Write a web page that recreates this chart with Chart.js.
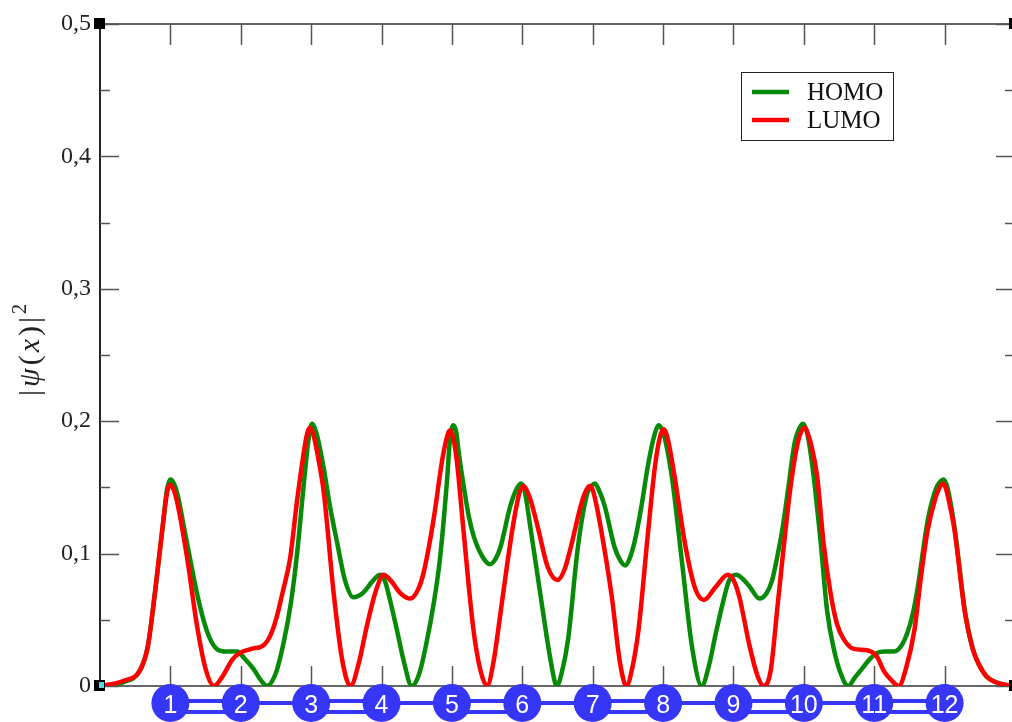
<!DOCTYPE html>
<html>
<head>
<meta charset="utf-8">
<script src="https://cdn.jsdelivr.net/npm/chart.js@4/dist/chart.umd.min.js"></script>
<style>
  html, body { margin: 0; padding: 0; background: #fff; overflow: hidden; }
</style>
</head>
<body>
<canvas id="orbitalChart" width="1017" height="722"></canvas>
<script>
// atom positions along the chain
const atoms = ['1', '2', '3', '4', '5', '6', '7', '8', '9', '10', '11', '12'];
// bond order between consecutive atoms (1-2, 2-3, ...)
const bondOrders = [2, 1, 2, 1, 2, 1, 2, 1, 2, 1, 2];

const yMajor = [0, 0.1, 0.2, 0.3, 0.4, 0.5];
const yMinor = [0.05, 0.15, 0.25, 0.35, 0.45];
const yLabels = ['0', '0,1', '0,2', '0,3', '0,4', '0,5'];

const homoX = [0, 0.34, 0.57, 0.68, 0.78, 0.9, 0.95, 1.0, 1.05, 1.1, 1.2, 1.28, 1.37, 1.47, 1.56, 1.66, 1.8, 1.95,
  2.05, 2.18, 2.29, 2.37, 2.5, 2.61, 2.71, 2.8, 2.9, 2.96, 3.01, 3.05, 3.09, 3.18, 3.27, 3.37, 3.48, 3.6, 3.73,
  3.87, 3.98, 4.05, 4.12, 4.22, 4.31, 4.43, 4.54, 4.64, 4.74, 4.83, 4.93, 4.97, 5.02, 5.06, 5.1, 5.17, 5.24, 5.31,
  5.43, 5.54, 5.62, 5.69, 5.83, 5.92, 5.98, 6.03, 6.12, 6.26, 6.41, 6.49, 6.56, 6.65, 6.79, 6.92, 6.98, 7.03, 7.08,
  7.17, 7.31, 7.39, 7.46, 7.53, 7.6, 7.69, 7.79, 7.88, 7.94, 7.99, 8.03, 8.13, 8.27, 8.41, 8.55, 8.65, 8.75, 8.85,
  8.94, 9.04, 9.13, 9.23, 9.37, 9.47, 9.55, 9.62, 9.7, 9.78, 9.87, 9.94, 9.99, 10.03, 10.07, 10.14, 10.24, 10.33,
  10.43, 10.52, 10.63, 10.72, 10.81, 10.95, 11.04, 11.15, 11.28, 11.38, 11.47, 11.55, 11.62, 11.76,
  11.87, 11.93, 11.98, 12.02, 12.06, 12.14, 12.29, 12.4, 12.48, 12.6, 12.72, 12.85, 13];
const homoY = [0, 0.003, 0.012, 0.03, 0.07, 0.125, 0.148, 0.156, 0.153, 0.145, 0.118, 0.096, 0.072, 0.05, 0.036, 0.028, 0.026, 0.026,
  0.021, 0.013, 0.004, 0, 0.01, 0.033, 0.062, 0.1, 0.155, 0.185, 0.198, 0.195, 0.188, 0.164, 0.135, 0.108, 0.08, 0.067, 0.07,
  0.079, 0.084, 0.079, 0.065, 0.042, 0.02, 0, 0.01, 0.033, 0.062, 0.096, 0.155, 0.185, 0.197, 0.192, 0.175, 0.15, 0.128, 0.113,
  0.098, 0.092, 0.096, 0.105, 0.136, 0.149, 0.153, 0.148, 0.118, 0.068, 0.017, 0, 0.01, 0.035, 0.105, 0.145, 0.151, 0.153, 0.149,
  0.136, 0.105, 0.095, 0.091, 0.097, 0.11, 0.135, 0.168, 0.19, 0.197, 0.193, 0.186, 0.156, 0.093, 0.03, 0, 0.015, 0.04, 0.063,
  0.08, 0.084, 0.081, 0.075, 0.066, 0.07, 0.08, 0.097, 0.12, 0.15, 0.184, 0.195, 0.198, 0.194, 0.185, 0.158, 0.108, 0.057,
  0.027, 0.01, 0, 0.006, 0.012, 0.021, 0.025, 0.026, 0.026, 0.03, 0.04, 0.055, 0.075, 0.125,
  0.148, 0.154, 0.156, 0.153, 0.145, 0.12, 0.056, 0.028, 0.017, 0.007, 0.003, 0.001, 0];

const lumoX = [0, 0.34, 0.57, 0.68, 0.78, 0.9, 0.95, 0.99, 1.04, 1.1, 1.24, 1.38, 1.5, 1.62, 1.75, 1.88, 1.99, 2.15,
  2.33, 2.42, 2.51, 2.6, 2.7, 2.8, 2.9, 2.94, 2.98, 3.03, 3.08, 3.18, 3.32, 3.44, 3.56, 3.68, 3.79, 3.92, 4.03, 4.14,
  4.27, 4.41, 4.52, 4.6, 4.74, 4.86, 4.92, 4.97, 5.02, 5.07, 5.16, 5.3, 5.4, 5.5, 5.59, 5.69, 5.78, 5.88, 5.96, 6.02,
  6.07, 6.12, 6.22, 6.36, 6.5, 6.6, 6.69, 6.84, 6.91, 6.96, 7.0, 7.04, 7.12, 7.27, 7.39, 7.48, 7.56, 7.65, 7.79, 7.89,
  7.96, 8.01, 8.06, 8.1, 8.17, 8.32, 8.46, 8.58, 8.75, 8.92, 9.0, 9.08, 9.23, 9.34, 9.43, 9.53, 9.62, 9.72, 9.81, 9.91,
  9.97, 10.02, 10.06, 10.1, 10.19, 10.28, 10.38, 10.47, 10.57, 10.71, 10.9, 11.04, 11.14, 11.25, 11.35, 11.45, 11.57,
  11.67, 11.76, 11.87, 11.93, 11.98, 12.02, 12.06, 12.14, 12.29, 12.4, 12.48, 12.6, 12.72, 12.85, 13];
const lumoY = [0, 0.004, 0.012, 0.03, 0.07, 0.125, 0.145, 0.152, 0.149, 0.138, 0.096, 0.045, 0.013, 0, 0.008, 0.02, 0.025, 0.028,
  0.031, 0.038, 0.052, 0.072, 0.096, 0.14, 0.178, 0.19, 0.195, 0.19, 0.178, 0.146, 0.07, 0.02, 0, 0.018, 0.045, 0.072, 0.084, 0.079,
  0.07, 0.066, 0.073, 0.086, 0.126, 0.17, 0.186, 0.193, 0.187, 0.17, 0.12, 0.045, 0.013, 0, 0.018, 0.055, 0.09, 0.125, 0.146, 0.151,
  0.147, 0.14, 0.12, 0.09, 0.08, 0.088, 0.105, 0.138, 0.148, 0.151, 0.148, 0.14, 0.118, 0.068, 0.017, 0, 0.013, 0.042, 0.118, 0.168,
  0.189, 0.194, 0.188, 0.178, 0.156, 0.105, 0.073, 0.065, 0.075, 0.084, 0.08, 0.068, 0.03, 0.008, 0, 0.012, 0.057, 0.108, 0.15, 0.183,
  0.193, 0.195, 0.19, 0.183, 0.158, 0.108, 0.07, 0.047, 0.035, 0.028, 0.027, 0.022, 0.011, 0.004, 0, 0.013, 0.042,
  0.085, 0.118, 0.142, 0.15, 0.153, 0.149, 0.14, 0.118, 0.055, 0.028, 0.017, 0.007, 0.003, 0.001, 0];

const SERIF = '"Liberation Serif", "DejaVu Serif", serif';

// ticks pointing inward on all four sides + top/right frame lines
const frameTicks = {
    id: 'frameTicks',
    beforeDatasetsDraw(chart) {
        const { ctx, chartArea: a, scales: { x, y } } = chart;
        ctx.save();
        ctx.strokeStyle = '#666';
        ctx.lineWidth = 2;
        ctx.beginPath();
        ctx.moveTo(a.left, a.top);
        ctx.lineTo(a.right, a.top);
        ctx.lineTo(a.right, a.bottom);
        ctx.stroke();

        ctx.lineWidth = 1.5;
        ctx.strokeStyle = '#555';
        ctx.beginPath();
        yMajor.forEach(v => {
            const py = Math.round(y.getPixelForValue(v)) + 0.5;
            ctx.moveTo(a.left, py); ctx.lineTo(a.left + 19, py);
            ctx.moveTo(a.right, py); ctx.lineTo(a.right - 19, py);
        });
        yMinor.forEach(v => {
            const py = Math.round(y.getPixelForValue(v)) + 0.5;
            ctx.moveTo(a.left, py); ctx.lineTo(a.left + 10, py);
            ctx.moveTo(a.right, py); ctx.lineTo(a.right - 10, py);
        });
        atoms.forEach((lbl, i) => {
            const px = Math.round(x.getPixelForValue(i + 1)) + 0.5;
            ctx.moveTo(px, a.bottom); ctx.lineTo(px, a.bottom - 20);
            ctx.moveTo(px, a.top); ctx.lineTo(px, a.top + 21);
        });
        ctx.stroke();
        ctx.restore();
    },
    afterDraw(chart) {
        const { ctx, chartArea: a, scales: { x } } = chart;
        ctx.save();

        // corner markers
        [[a.left, a.top, false], [a.right, a.top, false], [a.left, a.bottom, true], [a.right, a.bottom, true]]
            .forEach(([cx, cy, cyan]) => {
                ctx.fillStyle = '#000';
                ctx.fillRect(cx - 6, cy - 6, 11, 11);
                if (cyan) {
                    ctx.fillStyle = '#5ad8e6';
                    ctx.fillRect(cx - 1, cy - 4, 5, 6);
                }
            });

        // y axis title |psi(x)|^2
        ctx.translate(39, 350);
        ctx.rotate(-Math.PI / 2);
        const parts = [['|', false], ['\u03C8', true], ['(', false], ['x', true], [')', false], ['|', false]];
        const gap = 3;
        let total = 0;
        parts.forEach(([t, it]) => {
            ctx.font = (it ? 'italic ' : '') + '30px ' + SERIF;
            total += ctx.measureText(t).width + gap;
        });
        ctx.font = '20px ' + SERIF;
        total += ctx.measureText('2').width;
        let cx = -total / 2;
        ctx.fillStyle = '#222';
        ctx.textBaseline = 'alphabetic';
        parts.forEach(([t, it]) => {
            ctx.font = (it ? 'italic ' : '') + '30px ' + SERIF;
            ctx.fillText(t, cx, 0);
            cx += ctx.measureText(t).width + gap;
        });
        ctx.font = '20px ' + SERIF;
        ctx.fillText('2', cx, -13);
        ctx.setTransform(1, 0, 0, 1, 0, 0);

        // legend box
        ctx.fillStyle = '#fff';
        ctx.fillRect(741, 72, 152, 68);
        ctx.strokeStyle = '#222';
        ctx.lineWidth = 1;
        ctx.strokeRect(741.5, 72.5, 152, 68);
        const legendOrder = ['HOMO', 'LUMO'];
        legendOrder.forEach((name, i) => {
            const ds = chart.data.datasets.find(d => d.label === name);
            const ly = 92 + i * 28;
            ctx.strokeStyle = ds.borderColor;
            ctx.lineWidth = 4.5;
            ctx.beginPath();
            ctx.moveTo(752, ly); ctx.lineTo(789, ly);
            ctx.stroke();
            ctx.fillStyle = '#111';
            ctx.font = '25px ' + SERIF;
            ctx.textBaseline = 'middle';
            ctx.textAlign = 'left';
            ctx.fillText(name, 807, ly + 1);
        });

        // molecule: atoms and bonds under the axis
        const blue = '#3636f8';
        const cy = 703;
        ctx.strokeStyle = blue;
        bondOrders.forEach((order, i) => {
            const x1 = x.getPixelForValue(i + 1), x2 = x.getPixelForValue(i + 2);
            ctx.beginPath();
            ctx.lineWidth = 4;
            if (order === 2) {
                ctx.moveTo(x1, cy - 2); ctx.lineTo(x2, cy - 2);
                ctx.moveTo(x1, cy + 9); ctx.lineTo(x2, cy + 9);
            } else {
                ctx.moveTo(x1, cy); ctx.lineTo(x2, cy);
            }
            ctx.stroke();
        });
        atoms.forEach((lbl, i) => {
            const px = x.getPixelForValue(i + 1);
            ctx.fillStyle = blue;
            ctx.beginPath();
            ctx.arc(px, cy, 19, 0, Math.PI * 2);
            ctx.fill();
            ctx.fillStyle = '#fff';
            ctx.font = '25px "Liberation Sans", Arial, sans-serif';
            ctx.textAlign = 'center';
            ctx.textBaseline = 'middle';
            ctx.fillText(lbl, px, cy + 3, 30);
        });
        ctx.restore();
    }
};

new Chart(document.getElementById('orbitalChart'), {
    type: 'line',
    data: {
        datasets: [
            {
                label: 'HOMO',
                data: homoX.map((v, i) => ({ x: v, y: homoY[i] })),
                borderColor: '#078a07',
                borderWidth: 4.5,
                pointRadius: 0,
                cubicInterpolationMode: 'monotone',
                order: 2
            },
            {
                label: 'LUMO',
                data: lumoX.map((v, i) => ({ x: v, y: lumoY[i] })),
                borderColor: '#ff0000',
                borderWidth: 4.5,
                pointRadius: 0,
                cubicInterpolationMode: 'monotone',
                order: 1
            }
        ]
    },
    options: {
        responsive: false,
        animation: false,
        layout: { padding: { top: 24, right: 2, left: 0, bottom: 0 } },
        plugins: {
            legend: { display: false },
            tooltip: { enabled: false }
        },
        scales: {
            x: {
                type: 'linear',
                min: 0,
                max: 13,
                grid: { display: false, drawTicks: false },
                border: { display: true, color: '#666', width: 2 },
                ticks: { display: false },
                afterFit(scale) { scale.height = 36; }
            },
            y: {
                min: 0,
                max: 0.5,
                grid: { display: false, drawTicks: false },
                border: { display: true, color: '#222', width: 2 },
                afterBuildTicks(scale) { scale.ticks = yMajor.map(v => ({ value: v })); },
                ticks: {
                    callback: (v, i) => yLabels[i],
                    color: '#222',
                    padding: 9,
                    font: { family: SERIF, size: 24 }
                },
                afterFit(scale) { scale.width = 100; }
            }
        }
    },
    plugins: [frameTicks]
});
</script>
</body>
</html>
